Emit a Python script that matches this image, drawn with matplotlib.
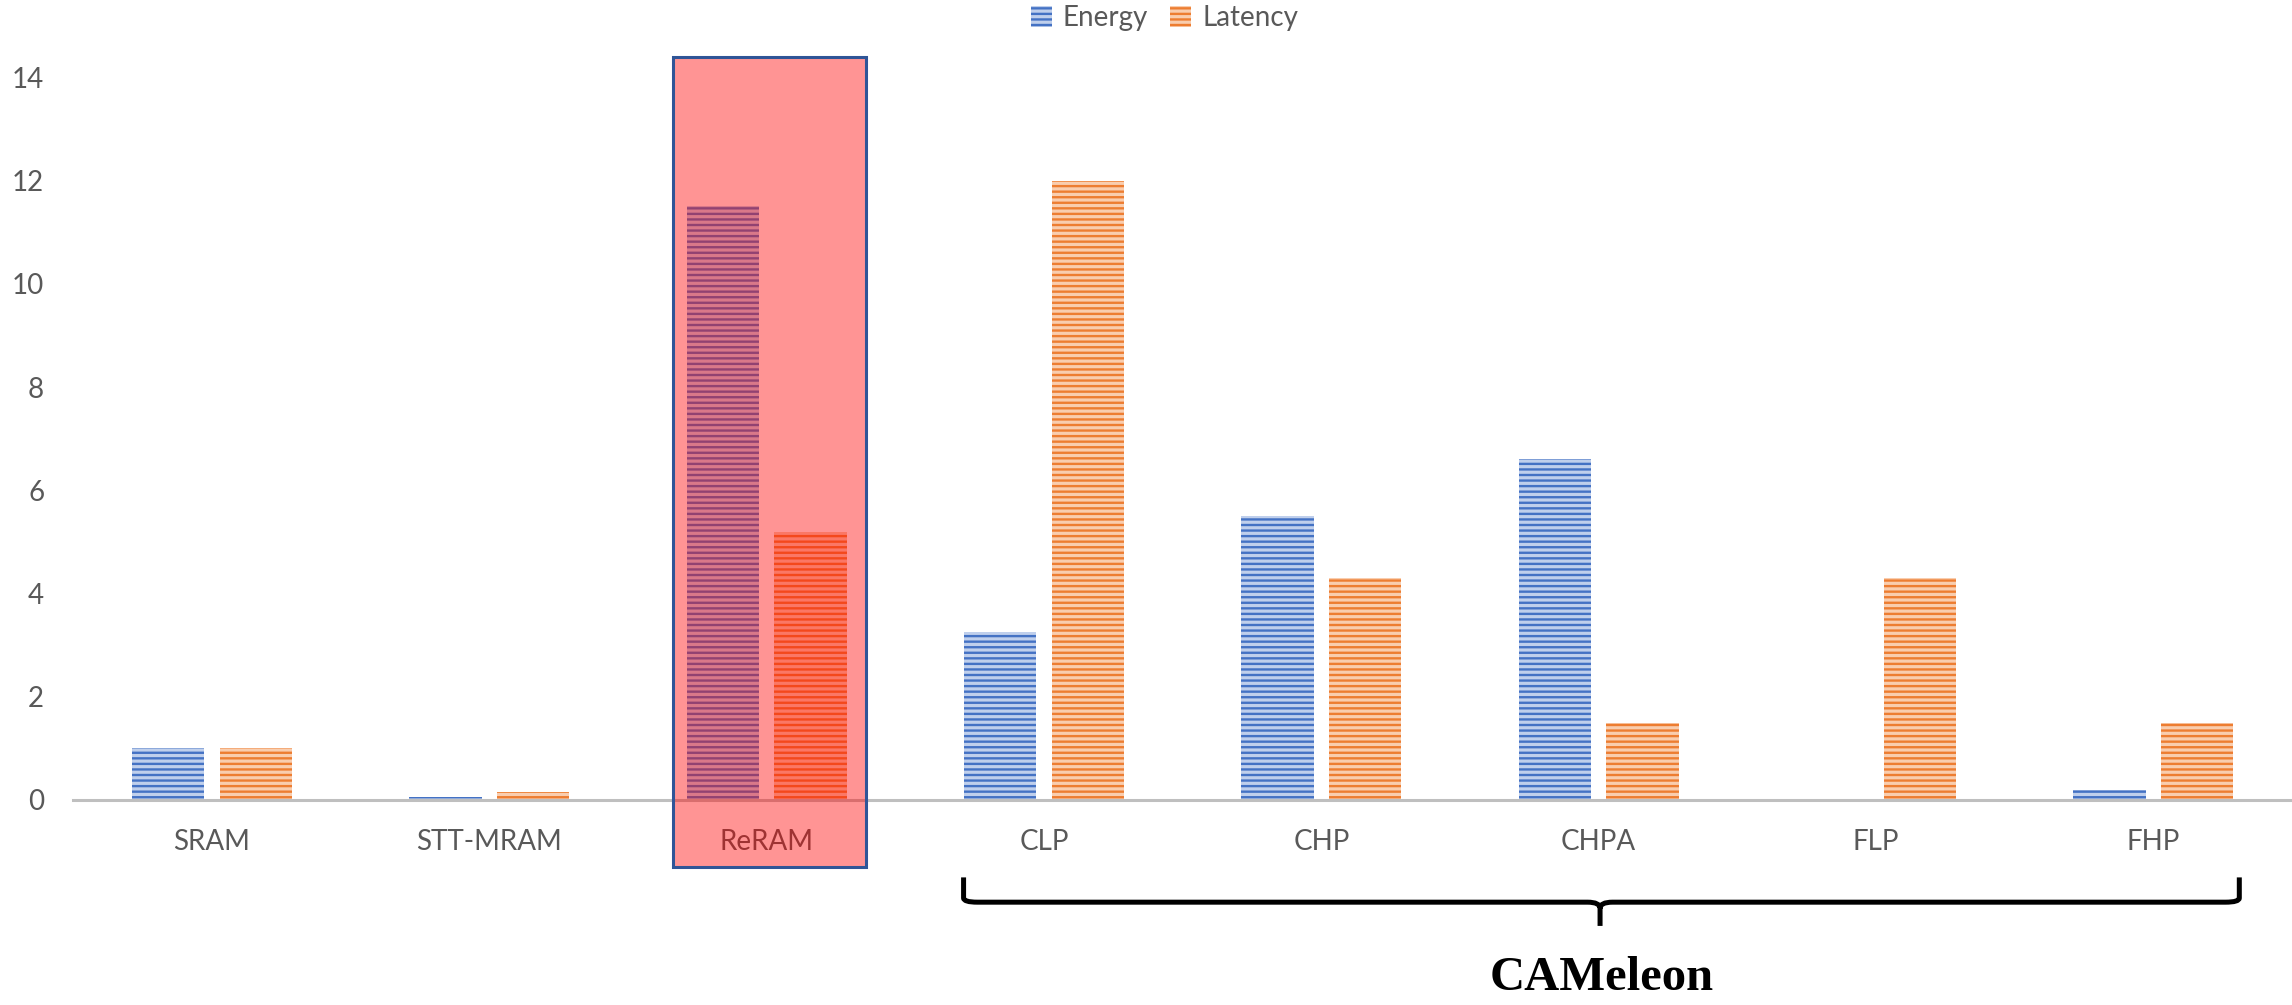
import matplotlib
matplotlib.use("Agg")
import matplotlib.pyplot as plt
import numpy as np
from matplotlib.patches import Rectangle, Patch, PathPatch
from matplotlib.path import Path

categories = ["SRAM", "STT-MRAM", "ReRAM", "CLP", "CHP", "CHPA", "FLP", "FHP"]
energy = [1.0, 0.05, 11.5, 3.25, 5.5, 6.6, 0.0, 0.2]
latency = [1.0, 0.15, 5.2, 12.0, 4.3, 1.5, 4.3, 1.5]
yticks = [0, 2, 4, 6, 8, 10, 12, 14]

BLUE, BLUE_LIGHT = "#4472C4", "#BFCFEC"
ORANGE, ORANGE_LIGHT = "#ED7D31", "#F9CDAE"
TEXT = "#595959"

plt.rcParams["font.family"] = ["Lato", "DejaVu Sans"]
plt.rcParams["hatch.linewidth"] = 1.7

fig = plt.figure(figsize=(22.92, 10.05), dpi=100)
ax = fig.add_axes([0.032, 0.204, 0.968, 0.719])

x = np.arange(len(categories))
w, off = 0.26, 0.158
ax.bar(x - off, energy, w, facecolor=BLUE_LIGHT, edgecolor=BLUE,
       linewidth=0, hatch="---", zorder=2)
ax.bar(x + off, latency, w, facecolor=ORANGE_LIGHT, edgecolor=ORANGE,
       linewidth=0, hatch="---", zorder=2)

ax.set_xlim(-0.5, len(categories) - 0.5)
ax.set_ylim(0, 14)
ax.set_xticks(x)
ax.set_xticklabels(categories)
ax.set_yticks(yticks)
ax.set_yticklabels([str(v) for v in yticks])
ax.tick_params(axis="both", length=0, labelsize=20, labelcolor=TEXT)
ax.tick_params(axis="x", pad=21)
ax.tick_params(axis="y", pad=21)
for s in ("left", "right", "top"):
    ax.spines[s].set_visible(False)
ax.spines["bottom"].set_color("#BFBFBF")
ax.spines["bottom"].set_linewidth(2.2)

# highlight box around the ReRAM group
hx0, hx1, hy0, hy1 = 1.663, 2.358, -1.3, 14.4
ax.add_patch(Rectangle((hx0, hy0), hx1 - hx0, hy1 - hy0, facecolor="red",
                       alpha=0.42, linewidth=0, clip_on=False, zorder=10))
ax.add_patch(Rectangle((hx0, hy0), hx1 - hx0, hy1 - hy0, fill=False,
                       edgecolor="#2F5597", linewidth=2.2, clip_on=False,
                       zorder=11))

# brace under the CAMeleon configurations
xl, xc, xr = 2.71, 5.005, 7.31
yt, yb, yn = -1.50, -1.98, -2.44
verts = [(xl, yt), (xl, yb + 0.08), (xl, yb), (xl + 0.05, yb),
         (xc - 0.045, yb), (xc, yb), (xc, yb - 0.12), (xc, yn),
         (xc, yb - 0.12), (xc, yb), (xc + 0.045, yb),
         (xr - 0.05, yb), (xr, yb), (xr, yb + 0.08), (xr, yt)]
codes = [Path.MOVETO, Path.LINETO, Path.CURVE3, Path.CURVE3,
         Path.LINETO, Path.CURVE3, Path.CURVE3, Path.LINETO,
         Path.MOVETO, Path.CURVE3, Path.CURVE3,
         Path.LINETO, Path.CURVE3, Path.CURVE3, Path.LINETO]
ax.add_patch(PathPatch(Path(verts, codes), facecolor="none", edgecolor="black",
                       linewidth=3.6, capstyle="butt", joinstyle="round",
                       clip_on=False, zorder=12))
fig.text(0.699, 0.027, "CAMeleon", ha="center", va="center",
         fontsize=35, fontweight="bold",
         family=["Liberation Serif", "DejaVu Serif"], color="black")

handles = [Patch(facecolor=BLUE_LIGHT, edgecolor=BLUE, linewidth=0, hatch="---"),
           Patch(facecolor=ORANGE_LIGHT, edgecolor=ORANGE, linewidth=0, hatch="---")]
fig.legend(handles, ["Energy", "Latency"], loc="center",
           bbox_to_anchor=(0.508, 0.982), ncol=2, frameon=False,
           fontsize=20, labelcolor=TEXT, handlelength=0.75, handleheight=0.75,
           handletextpad=0.4, columnspacing=0.8)

fig.savefig("out.png", dpi=100)
